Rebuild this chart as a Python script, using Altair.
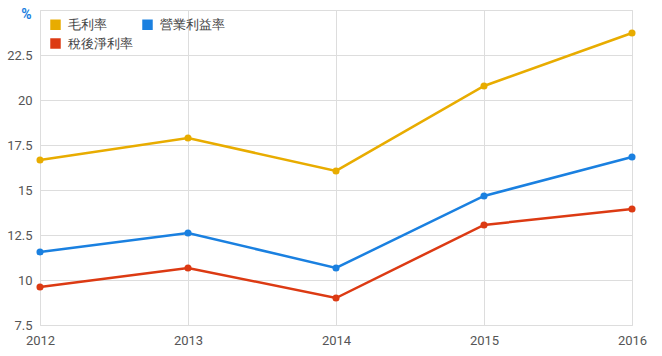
import altair as alt
import pandas as pd

years = ["2012", "2013", "2014", "2015", "2016"]
gross = [16.67, 17.89, 16.06, 20.78, 23.72]
operating = [11.56, 12.61, 10.67, 14.67, 16.83]
net = [9.61, 10.67, 9.0, 13.06, 13.94]
series_names = ["毛利率", "營業利益率", "稅後淨利率"]
series_colors = {"毛利率": "#E8AC00", "營業利益率": "#1A80E0", "稅後淨利率": "#DC3A13"}
# legend fills column-wise, so order entries to read row-wise like the original
legend_order = ["毛利率", "稅後淨利率", "營業利益率"]
y_ticks = [7.5, 10, 12.5, 15, 17.5, 20, 22.5, 25]

rows = []
for name, vals in zip(series_names, [gross, operating, net]):
    for yr, v in zip(years, vals):
        rows.append({"year": yr, "value": v, "series": name})
df = pd.DataFrame(rows)

font = "Roboto"

x = alt.X("year:O", scale=alt.Scale(type="point", padding=0),
          axis=alt.Axis(title=None, labelAngle=0, ticks=False, domain=False,
                        grid=True, gridColor="#dddddd", labelPadding=9,
                        labelFontSize=13, labelColor="#555555", labelFont=font))
y = alt.Y("value:Q", scale=alt.Scale(domain=[7.5, 25], nice=False, zero=False),
          axis=alt.Axis(values=y_ticks, title="%", titleAngle=0, titleX=-14, titleY=4,
                        titleAlign="center", titleBaseline="middle", titleColor="#1A80E0",
                        titleFontSize=14, titleFontWeight="bold", titleFont=font,
                        labelExpr="datum.value == 25 ? '' : format(datum.value, '~g')",
                        ticks=False, domain=False, gridColor="#dddddd", labelPadding=8,
                        labelFontSize=13, labelColor="#555555", labelFont=font))
color = alt.Color("series:N", sort=legend_order,
                  scale=alt.Scale(domain=legend_order,
                                  range=[series_colors[n] for n in legend_order]),
                  legend=alt.Legend(title=None, orient="none", legendX=7, legendY=6,
                                    columns=2, symbolType="square", symbolSize=110,
                                    symbolStrokeWidth=0, labelFontSize=13, labelColor="#444444",
                                    labelFont=font, columnPadding=8, rowPadding=5,
                                    labelOffset=6, padding=2))

base = alt.Chart(df).encode(x=x, y=y, color=color)
lines = base.mark_line(strokeWidth=2.5)
points = base.mark_point(filled=True, size=50, opacity=1)

chart = (lines + points).properties(
    width=592, height=315,
    autosize=alt.AutoSizeParams(type="none"),
    padding={"left": 40, "top": 10, "right": 30, "bottom": 31},
).configure_view(stroke=None).configure(background="white")

chart.save("out.html", embed_options={"renderer": "svg", "actions": False})
